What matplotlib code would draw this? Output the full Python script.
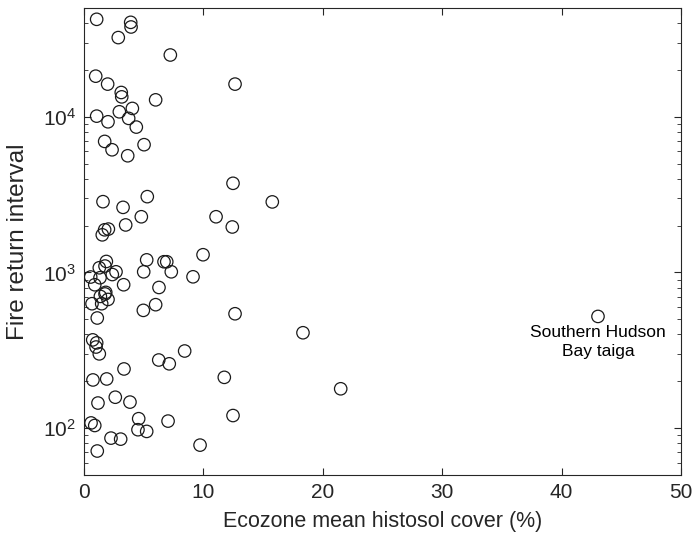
import numpy as np
import matplotlib.pyplot as plt
from matplotlib.ticker import LogLocator, NullFormatter, FixedLocator

# ecozone mean histosol cover (%) and fire return interval (years)
histosol = [1.06, 3.91, 3.94, 2.87, 7.23, 0.98, 1.98, 12.65, 3.12, 3.16,
            6.0, 1.06, 2.96, 4.05, 3.74, 2.01, 4.38, 1.73, 2.35, 5.03,
            3.66, 12.48, 1.59, 5.30, 3.27, 4.80, 11.06, 15.77, 12.42, 3.49,
            2.04, 1.73, 1.53, 9.97, 5.25, 1.87, 6.70, 6.93, 1.76, 1.28,
            2.68, 5.0, 7.31, 2.37, 0.56, 1.34, 9.13, 0.90, 3.32, 6.28,
            1.82, 1.76, 1.37, 2.01, 0.67, 1.48, 6.0, 4.97, 1.11, 12.65,
            0.73, 1.06, 1.01, 1.28, 8.43, 6.26, 7.14, 3.35, 0.75, 1.90,
            11.75, 18.34, 43.05, 21.5, 2.62, 3.85, 1.17, 12.48, 4.58, 7.04,
            0.59, 0.90, 4.52, 5.25, 2.26, 3.07, 9.72, 1.11]
fri = [42300, 40450, 37760, 32280, 24950, 18240, 16220, 16220, 14330, 13430,
       12850, 10100, 10770, 11320, 9770, 9290, 8590, 6950, 6140, 6620,
       5620, 3740, 2850, 3070, 2620, 2280, 2280, 2840, 1960, 2020,
       1900, 1880, 1745, 1300, 1205, 1177, 1172, 1172, 1100, 1072,
       1010, 1010, 1010, 970, 935, 925, 938, 834, 834, 801,
       745, 728, 702, 671, 630, 630, 621, 571, 510, 543,
       369, 353, 332, 300, 313, 274, 259, 240, 204, 207,
       212, 410, 522, 179, 158, 147, 145, 120.5, 115, 111,
       108, 104, 97.7, 95.3, 86.3, 85, 77.8, 71.3]

label_x = 43.05
label_y = 522
label_text = "Southern Hudson\nBay taiga"

plt.rcParams['font.family'] = ['Liberation Sans', 'DejaVu Sans']
plt.rcParams['mathtext.fontset'] = 'custom'
plt.rcParams['mathtext.rm'] = 'Liberation Sans'
plt.rcParams['mathtext.it'] = 'Liberation Sans:italic'
plt.rcParams['mathtext.bf'] = 'Liberation Sans:bold'

dark = '#262626'
fig = plt.figure(figsize=(6.96, 5.48), dpi=100)
ax = fig.add_axes([0.1207, 0.1332, 0.8577, 0.8522])

ax.scatter(histosol, fri, s=80, facecolors='none', edgecolors='#1a1a1a', linewidths=0.9, zorder=3)
ax.text(label_x, label_y * 0.88, label_text, ha='center', va='top', fontsize=12.5, color='black', linespacing=1.35)

ax.set_yscale('log')
ax.set_xlim(0, 50)
ax.set_ylim(50, 50000)
ax.xaxis.set_major_locator(FixedLocator([0, 10, 20, 30, 40, 50]))
ax.yaxis.set_major_locator(FixedLocator([100, 1000, 10000]))
ax.yaxis.set_minor_locator(LogLocator(base=10, subs=np.arange(2, 10)))
ax.yaxis.set_minor_formatter(NullFormatter())

ax.tick_params(which='both', direction='in', top=True, right=True, colors=dark, labelcolor=dark)
ax.tick_params(which='major', length=5, width=0.8, labelsize=15, pad=6)
ax.tick_params(which='minor', length=3, width=0.6)
for sp in ax.spines.values():
    sp.set_color(dark)
    sp.set_linewidth(0.8)

ax.set_xlabel("Ecozone mean histosol cover (%)", fontsize=15.5, color=dark, labelpad=6)
ax.set_ylabel("Fire return interval", fontsize=17.5, color=dark, labelpad=10)

fig.savefig("out.png", dpi=100)
